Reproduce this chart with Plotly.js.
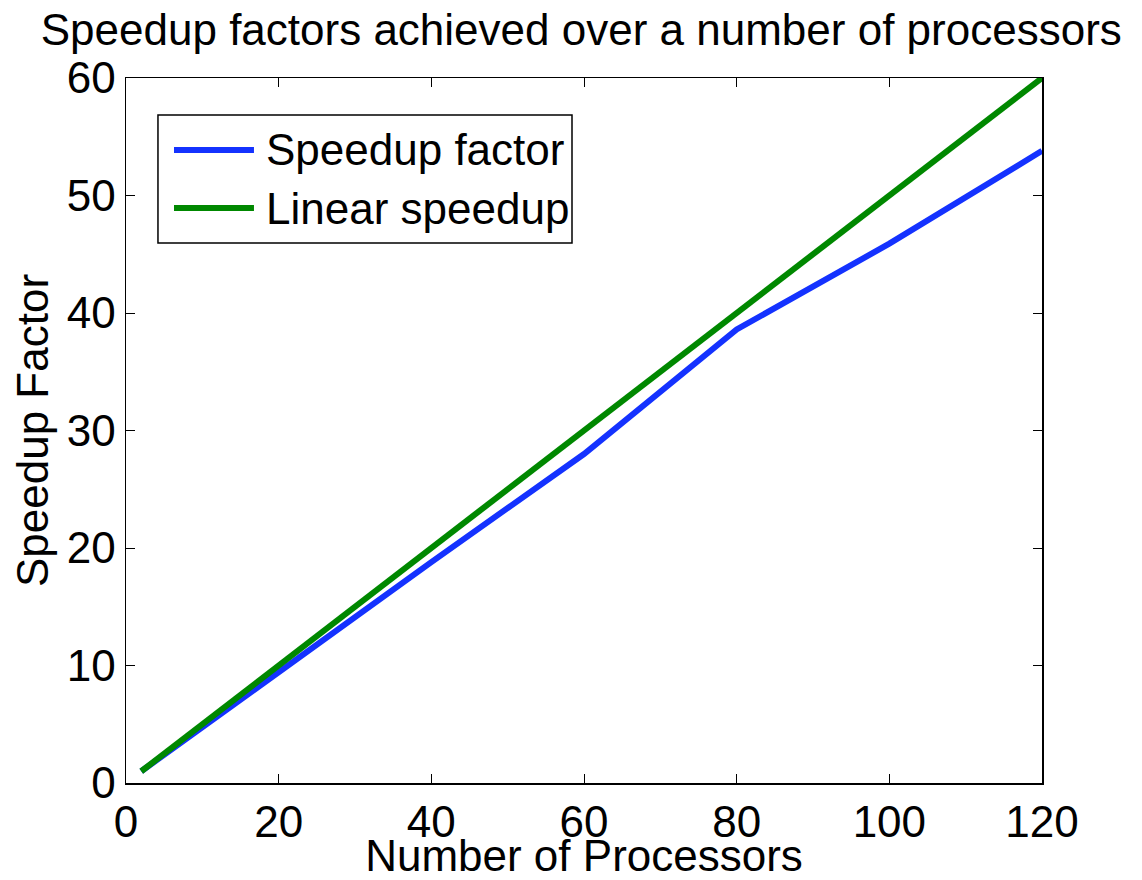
<!DOCTYPE html>
<html><head><meta charset="utf-8">
<script src="https://cdn.plot.ly/plotly-3.0.1.min.js"></script>
<style>body{margin:0;background:#fff}#chart{width:1142px;height:880px}</style>
</head><body><div id="chart"></div>
<script>
const processors = [2, 20, 40, 60, 80, 100, 120];
const speedupFactor = [1, 9.5, 18.8, 28.0, 38.6, 45.9, 53.8];
const linearSpeedup = [1, 10, 20, 30, 40, 50, 60];
const seriesNames = ['Speedup factor', 'Linear speedup'];
const xTicks = [0, 20, 40, 60, 80, 100, 120];
const yTicks = [0, 10, 20, 30, 40, 50, 60];

const FONT = 'Liberation Sans, Arial, Helvetica, sans-serif';
const BLUE = '#1432ff', GREEN = '#008800';
const FS = 44;

const traces = [
  {x: processors, y: speedupFactor, name: seriesNames[0], mode: 'lines', line: {color: BLUE, width: 6}},
  {x: processors, y: linearSpeedup, name: seriesNames[1], mode: 'lines', line: {color: GREEN, width: 6}}
];

const axisCommon = {
  showgrid: false, zeroline: false, showline: true, linecolor: '#000', linewidth: 1.5,
  mirror: 'ticks', ticks: 'inside', ticklen: 9, tickcolor: '#000', tickwidth: 1,
  tickfont: {family: FONT, size: FS, color: '#000'}
};

const layout = {
  width: 1142, height: 880,
  margin: {l: 126, r: 100, t: 78, b: 97},
  paper_bgcolor: '#fff', plot_bgcolor: '#fff',
  showlegend: false,
  title: {text: 'Speedup factors achieved over a number of processors', font: {family: FONT, size: 44, color: '#000'}, x: 0.509, xanchor: 'center', y: 0.966, yanchor: 'middle'},
  xaxis: Object.assign({}, axisCommon, {range: [0, 120], tickvals: xTicks, ticktext: xTicks.map(String),
    title: {text: 'Number of Processors', font: {family: FONT, size: FS, color: '#000'}, standoff: 0}}),
  yaxis: Object.assign({}, axisCommon, {range: [0, 60], tickvals: yTicks, ticktext: yTicks.map(String),
    title: {text: 'Speedup Factor', font: {family: FONT, size: FS, color: '#000'}, standoff: 4}}),
  shapes: [
    {type: 'rect', xref: 'paper', yref: 'paper', x0: 0.0349, x1: 0.4869, y0: 0.766, y1: 0.9475, line: {color: '#000', width: 1.5}, fillcolor: '#fff'},
    {type: 'line', xref: 'paper', yref: 'paper', x0: 0.0524, x1: 0.1397, y0: 0.8979, y1: 0.8979, line: {color: BLUE, width: 6}},
    {type: 'line', xref: 'paper', yref: 'paper', x0: 0.0524, x1: 0.1397, y0: 0.8156, y1: 0.8156, line: {color: GREEN, width: 6}}
  ],
  annotations: [
    {xref: 'paper', yref: 'paper', x: 0.1507, y: 0.8979, xanchor: 'left', yanchor: 'middle', showarrow: false, text: seriesNames[0], font: {family: FONT, size: FS, color: '#000'}},
    {xref: 'paper', yref: 'paper', x: 0.1507, y: 0.8156, xanchor: 'left', yanchor: 'middle', showarrow: false, text: seriesNames[1], font: {family: FONT, size: FS, color: '#000'}}
  ]
};

Plotly.newPlot('chart', traces, layout, {staticPlot: true, displayModeBar: false});
</script></body></html>
